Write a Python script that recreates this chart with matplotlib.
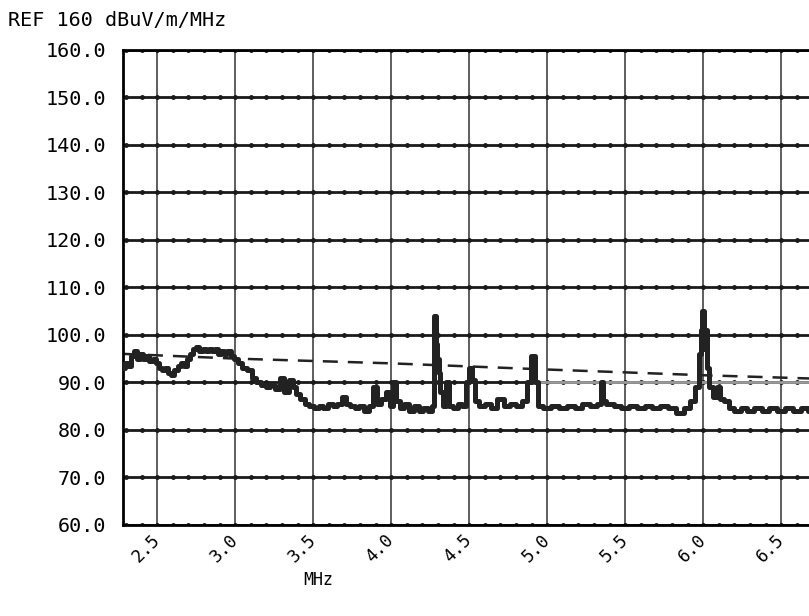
import numpy as np
import matplotlib
matplotlib.use('Agg')
from matplotlib import pyplot as plt

# measured trace (MHz, dBuV/m/MHz)
freq = [2.28, 2.30, 2.32, 2.34, 2.36, 2.38, 2.40, 2.42, 2.44, 2.46, 2.48, 2.50,
        2.52, 2.54, 2.56, 2.58, 2.60, 2.62, 2.64, 2.66, 2.68, 2.70, 2.72, 2.74,
        2.76, 2.78, 2.80, 2.82, 2.84, 2.86, 2.88, 2.90, 2.92, 2.94, 2.96, 2.98,
        3.00, 3.03, 3.06, 3.09, 3.12, 3.15, 3.18, 3.21, 3.24, 3.27, 3.30, 3.33,
        3.36, 3.38, 3.40, 3.43, 3.46, 3.49, 3.52, 3.55, 3.58, 3.61, 3.64, 3.67,
        3.70, 3.72, 3.75, 3.78, 3.81, 3.84, 3.87, 3.90, 3.92, 3.95, 3.98, 4.00,
        4.02, 4.04, 4.07, 4.10, 4.13, 4.16, 4.19, 4.22, 4.25, 4.27, 4.28, 4.29,
        4.30, 4.31, 4.32, 4.34, 4.36, 4.38, 4.41, 4.44, 4.47, 4.49, 4.51, 4.53,
        4.55, 4.58, 4.62, 4.66, 4.70, 4.74, 4.78, 4.82, 4.86, 4.88, 4.91, 4.93,
        4.95, 5.00, 5.05, 5.10, 5.15, 5.20, 5.25, 5.30, 5.34, 5.35, 5.36, 5.40,
        5.45, 5.50, 5.55, 5.60, 5.65, 5.70, 5.75, 5.80, 5.85, 5.90, 5.93, 5.96,
        5.98, 5.99, 6.00, 6.01, 6.02, 6.03, 6.05, 6.08, 6.10, 6.12, 6.15, 6.18,
        6.22, 6.26, 6.30, 6.35, 6.40, 6.45, 6.50, 6.55, 6.60, 6.65, 6.70, 6.75]
level = [93.0, 94.0, 93.5, 95.5, 96.5, 95.0, 96.0, 95.0, 95.5, 94.5, 95.0, 94.0,
         93.0, 92.5, 93.0, 92.0, 91.5, 92.5, 93.5, 94.0, 93.5, 95.0, 96.0, 97.0,
         97.5, 96.5, 97.0, 96.5, 97.0, 96.5, 97.0, 96.0, 96.5, 96.0, 96.5, 95.5,
         95.0, 94.0, 93.0, 92.5, 91.0, 90.0, 89.5, 89.0, 89.5, 88.5, 91.0, 88.0,
         90.5, 89.0, 87.5, 86.5, 85.5, 85.0, 84.5, 85.0, 84.5, 85.5, 85.0, 85.5,
         87.0, 85.5, 85.0, 84.5, 85.0, 84.0, 85.0, 89.0, 85.5, 86.5, 88.0, 85.0,
         90.0, 86.0, 84.5, 85.5, 84.0, 85.0, 84.0, 84.5, 84.0, 85.0, 104.0, 98.0,
         95.0, 92.0, 88.0, 85.0, 90.0, 85.0, 84.5, 85.5, 85.0, 90.0, 93.0, 90.5,
         86.0, 85.0, 85.5, 84.5, 86.5, 85.0, 85.5, 85.0, 86.0, 90.0, 95.5, 90.0,
         85.0, 84.5, 85.0, 84.5, 85.0, 84.5, 85.5, 85.0, 85.5, 90.0, 86.0, 85.5,
         85.0, 84.5, 85.0, 84.5, 85.0, 84.5, 85.0, 84.5, 83.5, 84.5, 86.0, 89.0,
         96.0, 101.0, 105.0, 97.0, 101.0, 93.0, 89.0, 87.0, 89.0, 86.5, 86.0, 84.5,
         84.0, 84.5, 84.0, 84.5, 84.0, 84.5, 84.0, 84.5, 84.0, 84.5, 84.0, 84.5]

# dashed limit line
limit_freq = [2.28, 3.0, 4.0, 5.0, 6.0, 7.0]
limit_level = [96.0, 95.0, 94.0, 92.7, 91.5, 90.5]

# faint gray line laid over the 90 dB grid line
gray_freq = [4.95, 7.0]
gray_level = [90.0, 90.0]

x_ticks = [2.5, 3.0, 3.5, 4.0, 4.5, 5.0, 5.5, 6.0, 6.5]
x_labels = ['2.5', '3.0', '3.5', '4.0', '4.5', '5.0', '5.5', '6.0', '6.5']
y_ticks = [60, 70, 80, 90, 100, 110, 120, 130, 140, 150, 160]

mono = ['DejaVu Sans Mono']

fig = plt.figure(figsize=(8.09, 6.16), dpi=100)
ax = fig.add_axes([0.152, 0.148, 0.910, 0.771])
ax.set_xlim(2.28, 7.0)
ax.set_ylim(60, 160)

# grid: thin vertical lines, heavy horizontal lines with dots
for x in x_ticks:
    ax.axvline(x, color='#333333', lw=1.1, zorder=1)
dots = np.arange(2.3, 7.0, 0.1)
for y in y_ticks:
    ax.axhline(y, color='#1a1a1a', lw=2.0, zorder=1)
    ax.plot(dots, [y] * len(dots), 'o', color='#1a1a1a', ms=2.5, zorder=1)
ax.plot(gray_freq, gray_level, color='#9a9a9a', lw=2.0, zorder=1.5)

ax.plot(limit_freq, limit_level, color='#222222', lw=1.8, dashes=(6, 4), zorder=2)
ax.step(freq, level, where='mid', color='#222222', lw=3.6, zorder=3)

for s in ['left', 'bottom', 'top']:
    ax.spines[s].set_linewidth(2.0)
ax.spines['right'].set_visible(False)

ax.set_xticks(x_ticks)
ax.set_xticklabels(x_labels, rotation=45, ha='right', va='center',
                   rotation_mode='anchor', family=mono, fontsize=12.5)
ax.set_yticks(y_ticks)
ax.set_yticklabels(['%.1f' % v for v in y_ticks], family=mono, fontsize=14.5)
ax.tick_params(length=0, pad=12)
ax.tick_params(axis='x', pad=9)

fig.text(0.01, 0.967, 'REF 160 dBuV/m/MHz', family=mono, fontsize=14.5, va='center')
fig.text(0.393, 0.058, 'MHz', family=mono, fontsize=12, ha='center', va='center')

fig.savefig('out.png', dpi=100)
